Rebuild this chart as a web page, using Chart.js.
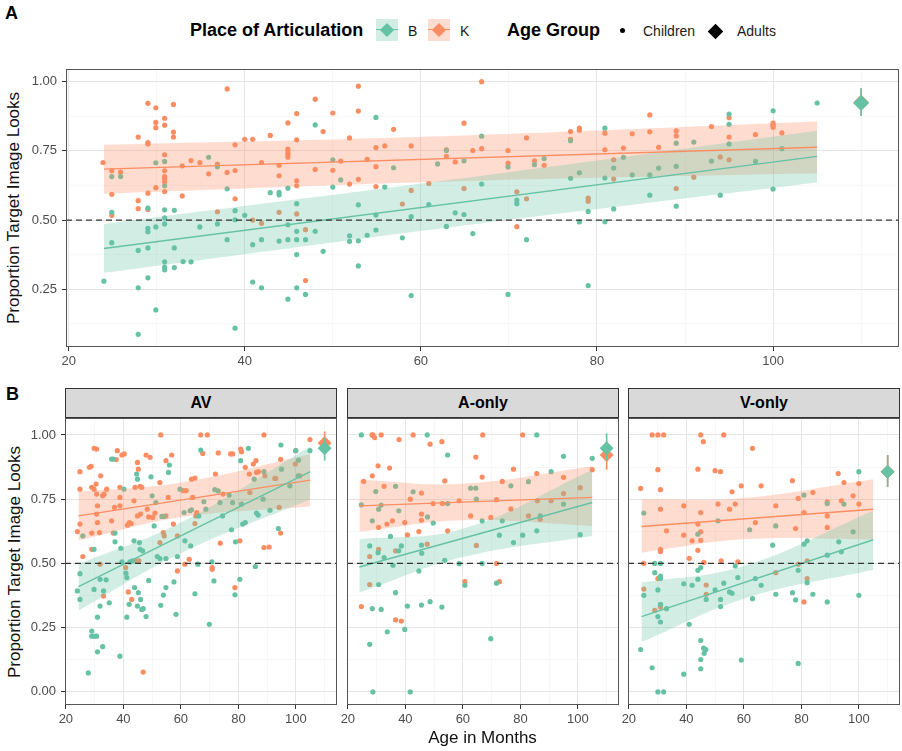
<!DOCTYPE html>
<html>
<head>
<meta charset="utf-8">
<script src="https://cdn.jsdelivr.net/npm/chart.js@4"></script>
<style>
  body { margin: 0; background: #fff; width: 902px; height: 751px; position: relative; overflow: hidden;
         font-family: "Liberation Sans", Arial, sans-serif; color: #000; }
  canvas { position: absolute; }
  .t { position: absolute; white-space: nowrap; }
  .tag { font-weight: bold; font-size: 18px; line-height: 18px; }
  .ltitle { font-weight: bold; font-size: 18px; line-height: 24px; top: 18px; }
  .ltext { font-size: 14px; line-height: 20px; top: 21px; color: #1a1a1a; }
  .key { position: absolute; top: 19px; width: 22px; height: 22px; }
  .key .kl { position: absolute; left: 0; right: 0; top: 10px; height: 1.3px; }
  .key .kd { position: absolute; left: 6px; top: 6px; width: 10px; height: 10px; transform: rotate(45deg); }
  .strip { position: absolute; top: 388px; height: 30px; box-sizing: border-box; background: #d9d9d9;
           border: 1px solid #333; font-weight: bold; font-size: 16px; line-height: 28px; text-align: center; }
  .ytitle { position: absolute; height: 20px; line-height: 20px; font-size: 17px; text-align: center;
            transform: rotate(-90deg); color: #111; }
</style>
</head>
<body>

<div class="t tag" style="left:5px;top:4px">A</div>
<div class="t tag" style="left:6px;top:385px">B</div>

<div class="t ltitle" style="left:190px">Place of Articulation</div>
<div class="key" style="left:376px;background:rgba(102,194,165,0.3)"><i class="kl" style="background:#66c2a5"></i><i class="kd" style="background:#66c2a5"></i></div>
<div class="t ltext" style="left:408px">B</div>
<div class="key" style="left:428px;background:rgba(252,141,98,0.3)"><i class="kl" style="background:#fc8d62"></i><i class="kd" style="background:#fc8d62"></i></div>
<div class="t ltext" style="left:460px">K</div>
<div class="t ltitle" style="left:507px">Age Group</div>
<div style="position:absolute;left:620px;top:28px;width:5px;height:5px;border-radius:50%;background:#000"></div>
<div class="t ltext" style="left:643px">Children</div>
<div style="position:absolute;left:710px;top:25.5px;width:11px;height:11px;background:#000;transform:rotate(45deg)"></div>
<div class="t ltext" style="left:737px">Adults</div>

<div class="ytitle" style="left:-125px;top:198px;width:278px">Proportion Target Image Looks</div>
<div class="ytitle" style="left:-129.5px;top:551.5px;width:287px">Proportion Target Image Looks</div>

<div class="strip" style="left:65px;width:272px">AV</div>
<div class="strip" style="left:347px;width:272px">A-only</div>
<div class="strip" style="left:628px;width:272px">V-only</div>

<canvas id="panelA" width="902" height="315" style="left:0;top:60px"></canvas>
<canvas id="panelAV" width="337" height="312" style="left:0;top:418px"></canvas>
<canvas id="panelAO" width="282" height="312" style="left:337px;top:418px"></canvas>
<canvas id="panelVO" width="282" height="312" style="left:618px;top:418px"></canvas>

<div class="t" style="left:382px;width:201px;top:727px;font-size:17px;line-height:22px;text-align:center;color:#111">Age in Months</div>

<script>
(function () {

// ---------------------------------------------------------------- data

var adultAge = 110;

// panel A : all conditions together, children [age, proportion]
var topChildB = [[24.0,.279],[24.9,.657],[25.9,.657],[24.9,.528],[24.9,.418],[27.9,.39],[27.9,.255],[27.9,.087],[29.0,.543],[29.0,.47],[29.0,.458],[29.0,.399],[29.0,.291],[29.9,.707],[29.9,.475],[29.9,.175],[30.9,.712],[30.9,.624],[30.9,.537],[30.9,.508],[30.9,.486],[30.9,.349],[30.9,.33],[30.9,.32],[32.0,.535],[32.0,.399],[32.0,.328],[33.0,.35],[33.9,.349],[34.9,.475],[35.9,.727],[36.9,.693],[36.9,.486],[38.0,.613],[38.0,.429],[38.9,.534],[38.9,.501],[38.9,.109],[40.0,.517],[40.9,.411],[40.9,.276],[41.9,.429],[41.9,.255],[42.9,.599],[43.9,.60],[43.9,.591],[43.9,.424],[44.9,.615],[44.9,.483],[44.9,.429],[44.9,.214],[45.9,.559],[45.9,.459],[45.9,.429],[45.9,.375],[45.9,.255],[46.9,.429],[46.9,.231],[48.0,.844],[48.0,.459],[48.9,.387],[50.0,.718],[50.0,.619],[50.9,.645],[51.9,.443],[51.9,.423],[52.9,.555],[52.9,.425],[52.9,.334],[53.9,.445],[54.9,.871],[54.9,.518],[54.9,.464],[55.9,.619],[56.9,.689],[57.9,.436],[58.9,.512],[58.9,.227],[60.9,.556],[61.9,.703],[62.9,.477],[62.9,.751],[63.9,.526],[64.9,.714],[64.9,.52],[65.9,.451],[66.9,.803],[66.9,.63],[69.9,.692],[69.9,.231],[70.9,.572],[70.9,.559],[72.0,.429],[72.9,.70],[74.0,.722],[77.0,.787],[77.0,.651],[78.0,.671],[78.0,.493],[79.0,.531],[79.0,.263],[80.9,.832],[80.9,.652],[80.9,.494],[81.9,.688],[81.9,.54],[83.0,.727],[84.0,.663],[86.0,.663],[86.0,.59],[87.0,.688],[89.0,.778],[89.0,.694],[89.0,.55],[91.0,.782],[93.0,.713],[94.0,.59],[95.0,.883],[95.0,.846],[95.0,.775],[98.0,.712],[100.0,.895],[100.0,.612],[101.0,.758],[105.0,.923]];
var topChildK = [[23.9,.708],[24.9,.678],[25.9,.673],[24.9,.593],[24.9,.517],[27.9,.80],[29.0,.922],[29.9,.906],[29.9,.853],[29.9,.834],[29.0,.78],[29.0,.775],[30.9,.868],[30.9,.843],[31.9,.918],[31.9,.818],[31.9,.80],[30.9,.736],[30.9,.678],[30.9,.657],[30.9,.649],[30.9,.638],[30.9,.603],[29.9,.617],[29.0,.597],[27.9,.57],[27.9,.541],[29.0,.538],[32.9,.696],[32.9,.587],[33.9,.715],[34.9,.708],[35.9,.667],[36.9,.702],[36.9,.53],[38.0,.974],[38.0,.672],[38.9,.772],[38.9,.679],[38.9,.577],[40.0,.792],[40.9,.792],[40.9,.50],[41.9,.708],[41.9,.488],[42.9,.806],[43.9,.698],[43.9,.66],[43.9,.528],[44.9,.851],[44.9,.756],[44.9,.746],[44.9,.737],[44.9,.727],[45.9,.885],[45.9,.79],[45.9,.642],[45.9,.624],[45.9,.522],[46.9,.465],[46.9,.281],[48.0,.937],[48.0,.683],[48.9,.82],[50.0,.887],[50.0,.68],[50.9,.713],[51.9,.797],[51.9,.63],[52.9,.984],[52.9,.894],[52.9,.647],[53.9,.719],[54.9,.762],[54.9,.693],[54.9,.621],[55.9,.768],[56.9,.828],[57.9,.558],[58.9,.768],[58.9,.607],[60.9,.632],[62.9,.754],[62.9,.73],[63.9,.71],[64.9,.85],[64.9,.614],[65.9,.751],[66.9,1.0],[66.9,.758],[69.9,.751],[69.9,.706],[70.9,.602],[70.9,.476],[72.0,.797],[72.0,.577],[72.9,.714],[74.0,.698],[77.0,.82],[77.0,.792],[78.0,.832],[78.0,.825],[79.0,.579],[79.0,.568],[80.9,.814],[80.9,.754],[81.9,.718],[81.9,.648],[83.0,.76],[84.0,.812],[86.0,.88],[86.0,.819],[87.0,.763],[89.0,.822],[89.0,.804],[89.0,.614],[91.0,.655],[93.0,.838],[94.0,.728],[95.0,.87],[95.0,.80],[95.0,.718],[98.0,.809],[100.0,.85],[100.0,.843],[100.0,.835],[101.0,.815]];
var topBandAge = [24, 64, 105];
var topFitB = [0.397, 0.730], topUpB = [0.486, 0.648, 0.823], topLoB = [0.309, 0.477, 0.636];
var topFitK = [0.684, 0.763], topUpK = [0.772, 0.805, 0.856], topLoK = [0.595, 0.640, 0.669];
var topAdultB = [0.923, 0.876, 0.976];   // mean, low, high
var topAdultK = [0.925, 0.876, 0.976];

// panel B, AV
var avChildB = [[24.0,.393],[24.9,.46],[24.9,.36],[25.9,.607],[27.8,.074],[29.0,.237],[29.0,.217],[29.8,.217],[29.8,.555],[29.8,.399],[30.7,.217],[31.0,.156],[31.0,.291],[31.9,.438],[31.9,.334],[32.8,.176],[33.1,.393],[34.0,.436],[35.1,.347],[35.9,.906],[36.5,.906],[37.1,.618],[37.1,.584],[38.8,.139],[39.1,.559],[39.5,.506],[40.2,.789],[40.9,.462],[41.2,.445],[41.2,.291],[42.0,.341],[42.3,.506],[43.2,.51],[43.7,.588],[43.9,.406],[44.6,.848],[44.9,.828],[44.9,.334],[45.2,.386],[45.6,.581],[45.8,.555],[46.0,.36],[46.4,.321],[46.7,.549],[46.9,.324],[47.9,.293],[48.8,.434],[49.6,.837],[50.0,.763],[50.7,.646],[51.3,.737],[51.8,.527],[52.7,.519],[53.0,.337],[53.4,.683],[53.9,.377],[54.1,.683],[54.8,.406],[54.8,.519],[55.7,.854],[56.0,.883],[57.6,.428],[58.3,.302],[58.8,.527],[59.7,.789],[61.1,.698],[61.4,.588],[63.2,.705],[63.4,.568],[63.7,.709],[64.9,.382],[65.9,.497],[66.2,.685],[66.9,.941],[68.0,.74],[68.7,.711],[69.9,.263],[70.8,.506],[71.5,.432],[71.8,.787],[73.0,.782],[73.6,.737],[74.5,.685],[76.8,.766],[77.6,.631],[78.0,.737],[78.8,.378],[79.0,.584],[80.8,.90],[80.5,.438],[81.5,.653],[81.1,.731],[82.4,.659],[83.5,.948],[85.5,.828],[85.9,.488],[86.3,.696],[86.9,.688],[88.6,.75],[88.9,.857],[91.0,.707],[93.9,.636],[94.8,.961],[95.0,.867],[97.9,.802],[99.9,.939],[100.8,.841],[100.9,.902],[104.9,.939]];
var avChildK = [[24.0,.624],[24.9,.857],[24.9,.789],[24.9,.653],[25.9,.527],[28.2,.874],[28.8,.878],[29.0,.796],[29.0,.618],[29.0,.555],[29.8,.948],[30.7,.945],[29.8,.789],[30.7,.77],[30.5,.809],[31.0,.724],[30.7,.692],[31.0,.659],[31.7,.62],[32.1,.841],[32.8,.763],[33.3,.77],[33.1,.373],[31.9,.497],[34.2,.789],[35.9,.666],[36.5,.618],[36.9,.718],[37.5,.904],[37.9,.939],[38.8,.796],[38.8,.757],[38.8,.724],[39.5,.922],[40.3,.926],[40.8,.484],[41.4,.649],[42.1,.659],[42.7,.655],[41.7,.389],[42.9,.36],[43.7,.744],[44.1,.796],[44.4,.51],[44.9,.893],[45.2,.867],[45.8,.80],[45.4,.51],[44.9,.685],[46.0,.692],[46.4,.796],[46.9,.077],[47.9,.922],[48.3,.711],[48.8,.681],[49.3,.913],[50.2,.679],[51.0,.696],[52.7,.815],[52.7,.581],[53.0,1.0],[53.9,.62],[54.2,.607],[54.8,.685],[54.8,.90],[55.6,.757],[56.8,.922],[57.4,.653],[58.8,.607],[58.8,.471],[60.8,.783],[61.4,.497],[61.8,.783],[62.9,.516],[63.7,.828],[64.1,.757],[64.9,.832],[65.2,.685],[65.5,.698],[64.9,.655],[66.9,1.0],[67.6,.928],[69.2,1.0],[70.9,.484],[70.9,.477],[72.0,.848],[73.0,.93],[73.7,.579],[74.7,.77],[77.3,.926],[78.0,.926],[78.8,.406],[80.5,.588],[80.8,.945],[81.1,.935],[82.4,.874],[83.8,.848],[84.0,.776],[85.2,.887],[86.1,.90],[86.3,.854],[87.0,.857],[88.9,1.0],[88.9,.562],[89.2,.841],[90.7,.564],[92.7,.831],[93.0,.831],[94.2,.718],[94.7,.905],[94.7,.618],[99.8,.887],[100.0,.939],[101.4,.841],[104.9,.982]];
var avBandAge = [24.4, 60, 105];
var avFitB = [0.410, 0.857], avUpB = [0.497, 0.659, 0.955], avLoB = [0.317, 0.540, 0.750];
var avFitK = [0.685, 0.824], avUpK = [0.779, 0.815, 0.925], avLoK = [0.590, 0.680, 0.722];
var avAdultB = [0.948, 0.900, 0.990];
var avAdultK = [0.969, 0.930, 1.014];

// panel B, A-only
var aoChildB = [[24.7,1.0],[24.7,.728],[27.6,.568],[27.6,.185],[28.5,.666],[28.5,.324],[28.7,0.0],[29.7,.78],[30.5,.542],[30.7,.711],[30.7,.418],[31.6,.321],[31.6,.727],[32.6,.523],[33.7,.234],[34.8,.605],[35.7,.493],[36.6,.80],[36.6,.386],[37.7,.705],[37.7,.549],[38.6,.568],[39.8,.243],[40.7,.334],[41.7,0.0],[42.7,.779],[44.7,.471],[45.6,.571],[45.7,.54],[45.6,.338],[47.6,1.0],[47.7,.681],[48.6,.351],[49.7,.657],[52.7,.33],[53.7,.512],[54.7,.922],[54.7,.733],[58.7,.499],[60.7,.415],[62.7,.793],[64.5,.793],[64.7,.75],[66.7,.666],[66.7,.50],[69.7,.207],[71.7,.423],[72.7,.61],[73.7,.666],[76.7,.802],[77.6,.581],[80.8,.61],[82.8,.818],[85.7,1.0],[85.7,.627],[86.9,.685],[90.7,.857],[95.0,.917],[95.0,.731],[100.8,.612],[105.0,.909]];
var aoChildK = [[24.7,.332],[25.5,.819],[27.6,.418],[27.6,.527],[28.4,1.0],[28.7,1.0],[29.3,.99],[28.5,.841],[30.5,.88],[30.7,.64],[30.7,.555],[31.6,1.0],[32.6,.80],[33.6,.653],[34.5,.871],[35.5,.666],[36.6,.549],[36.6,.28],[37.8,.982],[38.6,.276],[39.8,.659],[40.7,.611],[41.7,.75],[42.7,1.0],[44.7,.624],[45.6,.774],[45.6,.692],[45.6,.668],[47.6,.575],[48.6,.964],[49.7,.733],[52.7,.974],[52.9,.733],[53.7,.821],[54.7,.627],[58.7,.744],[60.7,.429],[62.7,.685],[64.5,.914],[64.7,.57],[66.7,.836],[66.9,1.0],[69.7,.679],[71.7,.748],[71.7,.50],[72.7,.429],[73.7,.819],[76.7,.712],[77.6,.867],[80.8,1.0],[82.8,.685],[85.7,.85],[85.9,.744],[86.9,.672],[90.7,.744],[95.0,.835],[95.0,.772],[100.8,.795],[105.0,.865]];
var aoBandAge = [24, 60, 105];
var aoFitB = [0.486, 0.737], aoUpB = [0.594, 0.635, 0.865], aoLoB = [0.386, 0.525, 0.607];
var aoFitK = [0.724, 0.757], aoUpK = [0.826, 0.810, 0.878], aoLoK = [0.623, 0.668, 0.646];
var aoAdultB = [0.948, 0.900, 1.006];
var aoAdultK = [0.922, 0.865, 0.975];

// panel B, V-only
var voChildB = [[24.1,.165],[25.2,.696],[25.2,.376],[28.1,.094],[29.0,.50],[29.0,.464],[30.1,.397],[30.1,0.0],[30.1,.293],[31.0,.50],[31.0,.451],[31.0,.441],[31.0,.341],[31.0,.272],[32.1,0.0],[33.1,.324],[39.1,.421],[39.1,.069],[41.0,.263],[42.0,.415],[44.0,.614],[44.0,.473],[44.0,.438],[45.0,.484],[45.0,.20],[45.0,.126],[45.0,.09],[46.0,.17],[46.2,.15],[46.8,.165],[46.9,.36],[50.0,.397],[51.0,.666],[51.9,.36],[51.9,.332],[53.0,.423],[55.0,.389],[55.9,.384],[57.0,.49],[57.9,.445],[59.1,.124],[62.0,.631],[63.0,.363],[64.0,.441],[66.0,.415],[71.1,.646],[70.0,.571],[71.1,.38],[76.9,.386],[78.0,.358],[78.9,.473],[78.9,.111],[80.9,.766],[80.9,.575],[82.0,.588],[82.0,.425],[84.0,.38],[89.0,.733],[89.0,.532],[89.0,.35],[93.0,.584],[93.9,.545],[94.8,.731],[98.0,.623],[100.0,.857],[100.0,.376]];
var voChildK = [[24.1,.792],[25.2,.50],[25.2,.40],[28.1,1.0],[30.1,1.0],[32.1,1.0],[30.1,.865],[31.0,.787],[31.0,.711],[31.0,.555],[31.0,.546],[30.1,.441],[29.0,.317],[31.0,.33],[33.1,.627],[39.1,.724],[39.1,.61],[41.0,.52],[42.0,.588],[44.0,.867],[44.0,.653],[44.0,.551],[45.0,1.0],[45.0,.698],[45.0,.623],[45.0,.59],[45.9,.974],[46.1,.504],[46.9,.416],[46.9,.38],[50.0,.861],[51.0,.731],[51.9,.857],[52.1,.51],[53.0,1.0],[55.0,.711],[55.9,.779],[57.0,.731],[57.9,.506],[59.1,.802],[63.0,.948],[64.0,.659],[66.0,.802],[71.1,.724],[71.1,.464],[76.9,.822],[78.0,.636],[78.9,.753],[78.9,.497],[80.9,.698],[80.9,.35],[82.0,.51],[82.0,.441],[84.0,.776],[89.0,.74],[89.0,.685],[89.0,.64],[92.8,.85],[93.9,.744],[94.8,.815],[98.0,.763],[100.0,.811],[100.0,.731]];
var voBandAge = [24.4, 60, 105];
var voFitB = [0.293, 0.592], voUpB = [0.425, 0.490, 0.705], voLoB = [0.194, 0.363, 0.475];
var voFitK = [0.644, 0.711], voUpK = [0.750, 0.755, 0.828], voLoK = [0.542, 0.594, 0.594];
var voAdultB = [0.857, 0.798, 0.922];
var voAdultK = [0.857, 0.798, 0.922];

// -------------------------------------------------------------------------------------------------------

var GREEN = '#66c2a5', ORANGE = '#fc8d62';
var GREEN_FILL = 'rgba(102,194,165,0.3)', ORANGE_FILL = 'rgba(252,141,98,0.3)';
var FONT = '"Liberation Sans", Arial, sans-serif';
var X_MIN = 19.7, X_MAX = 114.3;

function toPts(pairs) {
    return pairs.map(function (p) { return { x: p[0], y: p[1] }; });
}
function curve(xs, ys) {
    return xs.map(function (x, i) { return { x: x, y: ys[i] }; });
}
function ends(xs) { return [xs[0], xs[xs.length - 1]]; }
function lineSet(data, color, width, order, extra) {
    var ds = { data: data, showLine: true, borderColor: color, borderWidth: width, pointRadius: 0, fill: false, order: order };
    for (var k in extra) ds[k] = extra[k];
    return ds;
}

// draws the grey box round each panel
var panelBorder = {
    id: 'panelBorder',
    afterDraw: function (chart) {
        var a = chart.chartArea, c = chart.ctx;
        c.save();
        c.strokeStyle = '#555';
        c.lineWidth = 1;
        c.strokeRect(Math.round(a.left) + 0.5, Math.round(a.top) + 0.5,
                     Math.round(a.right - a.left) - 1, Math.round(a.bottom - a.top) - 1);
        c.restore();
    }
};

function buildDatasets(p, diamond) {
    var band = { tension: 0.4 };
    return [
        { data: toPts(p.childK), backgroundColor: ORANGE, pointRadius: 2.6, borderWidth: 0, order: 12 },
        { data: toPts(p.childB), backgroundColor: GREEN, pointRadius: 2.6, borderWidth: 0, order: 11 },
        // confidence bands (drawn over the points, as in the original)
        lineSet(curve(p.bandAge, p.loK), 'rgba(0,0,0,0)', 0, 10, band),
        lineSet(curve(p.bandAge, p.upK), 'rgba(0,0,0,0)', 0, 9, { tension: 0.4, fill: '-1', backgroundColor: ORANGE_FILL }),
        lineSet(curve(p.bandAge, p.loB), 'rgba(0,0,0,0)', 0, 8, band),
        lineSet(curve(p.bandAge, p.upB), 'rgba(0,0,0,0)', 0, 7, { tension: 0.4, fill: '-1', backgroundColor: GREEN_FILL }),
        lineSet(curve(ends(p.bandAge), p.fitK), ORANGE, 1.4, 6),
        lineSet(curve(ends(p.bandAge), p.fitB), GREEN, 1.4, 5),
        lineSet([{ x: X_MIN, y: 0.5 }, { x: X_MAX, y: 0.5 }], '#333', 1.2, 4, { borderDash: [6, 4] }),
        // adults
        lineSet([{ x: adultAge, y: p.adultK[1] }, { x: adultAge, y: p.adultK[2] }], ORANGE, 1.6, 3),
        { data: [{ x: adultAge, y: p.adultK[0] }], pointStyle: 'rectRot', pointRadius: diamond, backgroundColor: ORANGE, borderWidth: 0, order: 2 },
        lineSet([{ x: adultAge, y: p.adultB[1] }, { x: adultAge, y: p.adultB[2] }], GREEN, 1.6, 1),
        { data: [{ x: adultAge, y: p.adultB[0] }], pointStyle: 'rectRot', pointRadius: diamond, backgroundColor: GREEN, borderWidth: 0, order: 0 }
    ];
}

function isMajorX(v) { return Math.abs(v % 20) < 1e-6; }
function isMajorY(v) { return Math.abs(v * 4 - Math.round(v * 4)) < 1e-6; }

function gridFor(test, showTicks) {
    return {
        color: function (c) { return c.tick && test(c.tick.value) ? '#e5e5e5' : '#f2f2f2'; },
        lineWidth: function (c) { return c.tick && test(c.tick.value) ? 1 : 0.6; },
        tickColor: function (c) { return c.tick && test(c.tick.value) ? '#333' : 'rgba(0,0,0,0)'; },
        tickWidth: 1,
        tickLength: 4,
        drawTicks: showTicks
    };
}

window.make_panel = function (canvasId, p, cfg) {
    try {
        var canvas = document.getElementById(canvasId);
        if (!canvas) return;
        var ctx = canvas.getContext('2d');
        var tickFont = { family: FONT, size: 13 };

        return new Chart(ctx, {
            type: 'scatter',
            data: { datasets: buildDatasets(p, cfg.diamond) },
            options: {
                responsive: false,
                animation: false,
                devicePixelRatio: 1,
                events: [],
                layout: { autoPadding: false, padding: cfg.padding },
                plugins: { legend: { display: false }, tooltip: { enabled: false } },
                scales: {
                    x: {
                        type: 'linear', min: X_MIN, max: X_MAX,
                        border: { display: false },
                        grid: gridFor(isMajorX, true),
                        ticks: {
                            stepSize: 10, includeBounds: false, autoSkip: false, maxRotation: 0, padding: 3,
                            color: '#4d4d4d', font: tickFont,
                            callback: function (v) { return isMajorX(v) ? String(v) : ''; }
                        },
                        afterFit: function (s) { s.height = cfg.xHeight; s.paddingLeft = 0; s.paddingRight = 0; }
                    },
                    y: {
                        type: 'linear', min: cfg.yMin, max: cfg.yMax,
                        border: { display: false },
                        grid: gridFor(isMajorY, cfg.showY),
                        ticks: {
                            display: cfg.showY,
                            stepSize: 0.125, includeBounds: false, autoSkip: false, padding: 5,
                            color: '#4d4d4d', font: tickFont,
                            callback: function (v) { return isMajorY(v) ? v.toFixed(2) : ''; }
                        },
                        afterFit: function (s) { s.width = cfg.yWidth; s.paddingTop = 0; s.paddingBottom = 0; }
                    }
                }
            },
            plugins: [panelBorder]
        });
    } catch (e) { console.log(e); }
};

// -------------------------------------------------------------------------------------------------------

var noPad = { top: 0, right: 0, left: 0, bottom: 0 };

make_panel('panelA', {
    childB: topChildB, childK: topChildK, bandAge: topBandAge,
    fitB: topFitB, upB: topUpB, loB: topLoB, fitK: topFitK, upK: topUpK, loK: topLoK,
    adultB: topAdultB, adultK: topAdultK
}, { yMin: 0.041, yMax: 1.046, showY: true, yWidth: 66, xHeight: 28, diamond: 8,
     padding: { top: 9, right: 3, left: 0, bottom: 0 } });

make_panel('panelAV', {
    childB: avChildB, childK: avChildK, bandAge: avBandAge,
    fitB: avFitB, upB: avUpB, loB: avLoB, fitK: avFitK, upK: avUpK, loK: avLoK,
    adultB: avAdultB, adultK: avAdultK
}, { yMin: -0.051, yMax: 1.066, showY: true, yWidth: 65, xHeight: 25, diamond: 7, padding: noPad });

make_panel('panelAO', {
    childB: aoChildB, childK: aoChildK, bandAge: aoBandAge,
    fitB: aoFitB, upB: aoUpB, loB: aoLoB, fitK: aoFitK, upK: aoUpK, loK: aoLoK,
    adultB: aoAdultB, adultK: aoAdultK
}, { yMin: -0.051, yMax: 1.066, showY: false, yWidth: 10, xHeight: 25, diamond: 7, padding: noPad });

make_panel('panelVO', {
    childB: voChildB, childK: voChildK, bandAge: voBandAge,
    fitB: voFitB, upB: voUpB, loB: voLoB, fitK: voFitK, upK: voUpK, loK: voLoK,
    adultB: voAdultB, adultK: voAdultK
}, { yMin: -0.051, yMax: 1.066, showY: false, yWidth: 10, xHeight: 25, diamond: 7, padding: noPad });

})();
</script>
</body>
</html>
